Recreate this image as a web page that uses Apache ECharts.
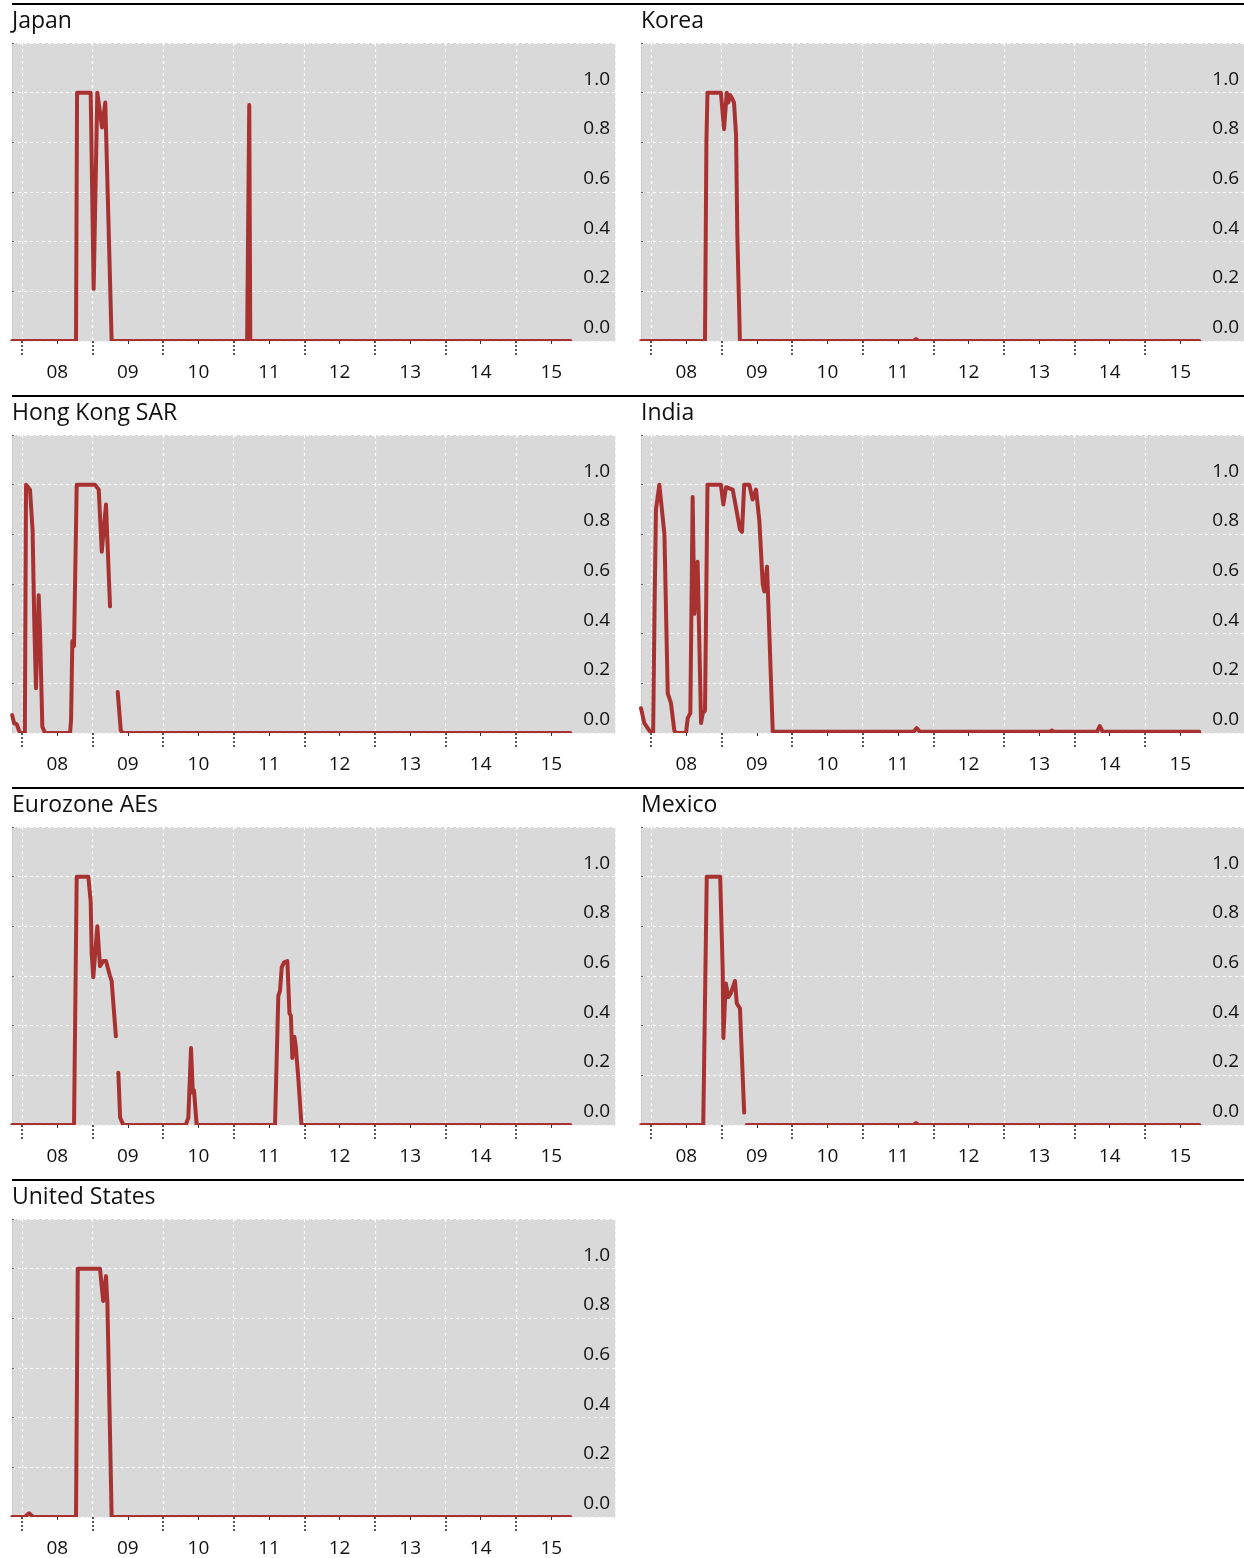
<!DOCTYPE html>
<html><head><meta charset="utf-8">
<script src="https://cdn.jsdelivr.net/npm/echarts@6/dist/echarts.min.js"></script>
<style>html,body{margin:0;padding:0;background:#fff}#c{width:1244px;height:1558px}</style>
</head><body><div id="c"></div>
<script>
// ---------- data ----------
const panelTitles = ['Japan', 'Korea', 'Hong Kong SAR', 'India', 'Eurozone AEs', 'Mexico', 'United States'];
const yearTicks = [2008, 2009, 2010, 2011, 2012, 2013, 2014, 2015];
const yearLabelPos = [2008.5, 2009.5, 2010.5, 2011.5, 2012.5, 2013.5, 2014.5, 2015.5];
const yearLabels = ['08', '09', '10', '11', '12', '13', '14', '15'];
const X_MIN = 2007.858, X_MAX = 2016.403;

const japan = [[2007.86,0],[2008.765,0],[2008.78,1.0],[2008.973,1.0],[2009.015,0.21],[2009.067,1.0],[2009.134,0.86],[2009.18,0.96],[2009.27,0],[2011.19,0],[2011.22,0.95],[2011.235,0],[2015.77,0]];
const korea = [[2007.86,0],[2008.765,0],[2008.785,0.8],[2008.80,1.0],[2008.99,1.0],[2009.035,0.853],[2009.073,1.0],[2009.095,0.96],[2009.12,0.99],[2009.143,0.98],[2009.176,0.96],[2009.205,0.83],[2009.223,0.43],[2009.26,0],[2011.72,0],[2011.755,0.008],[2011.79,0],[2015.77,0]];
const hongKong = [[2007.86,0.072],[2007.887,0.04],[2007.925,0.035],[2007.957,0.01],[2007.98,0],[2008.04,0],[2008.057,1.0],[2008.113,0.98],[2008.15,0.815],[2008.174,0.44],[2008.198,0.18],[2008.236,0.555],[2008.255,0.41],[2008.288,0.025],[2008.326,0],[2008.68,0],[2008.695,0.05],[2008.713,0.37],[2008.737,0.35],[2008.775,1.0],[2009.034,1.0],[2009.06,0.99],[2009.087,0.98],[2009.13,0.73],[2009.19,0.92],[2009.247,0.51],[2009.30,'-'],[2009.356,0.165],[2009.40,0.01],[2009.427,0],[2015.77,0]];
const india = [[2007.858,0.10],[2007.905,0.04],[2007.953,0.02],[2008.0,0],[2008.03,0],[2008.05,0.5],[2008.07,0.9],[2008.118,1.0],[2008.19,0.80],[2008.237,0.16],[2008.283,0.12],[2008.33,0.01],[2008.354,0],[2008.496,0],[2008.52,0.06],[2008.557,0.08],[2008.59,0.95],[2008.614,0.48],[2008.66,0.69],[2008.709,0.04],[2008.733,0.08],[2008.765,0.09],[2008.80,1.0],[2008.99,1.0],[2009.025,0.92],[2009.063,0.99],[2009.158,0.98],[2009.26,0.82],[2009.29,0.81],[2009.32,1.0],[2009.393,1.0],[2009.44,0.94],[2009.488,0.98],[2009.535,0.855],[2009.583,0.60],[2009.605,0.57],[2009.644,0.67],[2009.725,0.005],[2010.11,0.005],[2010.135,0.01],[2010.16,0.005],[2010.40,0.005],[2010.42,0.008],[2010.44,0.005],[2011.72,0.005],[2011.765,0.02],[2011.81,0.005],[2013.65,0.005],[2013.68,0.01],[2013.71,0.005],[2014.32,0.005],[2014.36,0.028],[2014.40,0.005],[2015.77,0.005]];
const eurozone = [[2007.86,0],[2008.737,0],[2008.775,1.0],[2008.94,1.0],[2008.973,0.90],[2008.987,0.69],[2009.01,0.595],[2009.067,0.80],[2009.105,0.64],[2009.15,0.66],[2009.19,0.66],[2009.247,0.60],[2009.27,0.58],[2009.33,0.357],[2009.35,'-'],[2009.365,0.21],[2009.39,0.03],[2009.435,0],[2010.32,0],[2010.357,0.03],[2010.395,0.31],[2010.42,0.13],[2010.437,0.14],[2010.475,0],[2011.585,0],[2011.632,0.52],[2011.656,0.54],[2011.68,0.635],[2011.713,0.655],[2011.76,0.66],[2011.79,0.45],[2011.81,0.44],[2011.83,0.27],[2011.86,0.355],[2011.88,0.315],[2011.915,0.19],[2011.96,0],[2015.77,0]];
const mexico = [[2007.86,0],[2008.74,0],[2008.79,1.0],[2008.98,1.0],[2009.016,0.62],[2009.025,0.35],[2009.06,0.57],[2009.095,0.515],[2009.13,0.53],[2009.19,0.58],[2009.215,0.49],[2009.26,0.47],[2009.32,0.05],[2009.34,'-'],[2009.355,0],[2011.72,0],[2011.755,0.008],[2011.79,0],[2015.77,0]];
const unitedStates = [[2007.86,0],[2008.04,0],[2008.10,0.015],[2008.16,0],[2008.765,0],[2008.79,1.0],[2009.105,1.0],[2009.15,0.87],[2009.19,0.97],[2009.21,0.86],[2009.27,0],[2015.77,0]];

const panelData = [japan, korea, hongKong, india, eurozone, mexico, unitedStates];

// ---------- chart ----------
const FONT = '"Open Sans", "Noto Sans", sans-serif';
const TEXT = '#111111';
const GRID_W = 603, GRID_H = 298;
const grids = [], xAxes = [], yAxes = [], series = [], graphics = [];

panelData.forEach((d, i) => {
  const col = i % 2, row = Math.floor(i / 2);
  const left = 12 + 629 * col, top = 43 + 392 * row;
  grids.push({left: left, top: top, width: GRID_W, height: GRID_H, show: true,
    backgroundColor: '#d9d9d9', borderWidth: 0});
  // data axis: vertical grid lines at year boundaries (drawn beneath the line)
  xAxes.push({
    type: 'value', gridIndex: i, min: X_MIN, max: X_MAX, position: 'bottom', z: 0,
    axisLine: {show: false, onZero: false},
    axisTick: {show: false, customValues: yearTicks},
    axisLabel: {show: false},
    splitLine: {show: true, lineStyle: {color: '#ffffff', type: [3, 3], width: 1.2}}
  });
  // year-boundary ticks (drawn above the mask)
  xAxes.push({
    type: 'value', gridIndex: i, min: X_MIN, max: X_MAX, position: 'bottom', z: 6,
    axisLine: {show: true, onZero: false, lineStyle: {color: '#f0f0f0', type: [3, 3], width: 1}},
    axisTick: {show: true, customValues: yearTicks, length: 14, lineStyle: {color: '#222', type: [2, 2], width: 1.5}},
    axisLabel: {show: false},
    splitLine: {show: false}
  });
  // mid-year minor ticks and year labels
  xAxes.push({
    type: 'value', gridIndex: i, min: X_MIN, max: X_MAX, position: 'bottom', z: 6,
    axisLine: {show: false, onZero: false},
    axisTick: {show: true, customValues: yearLabelPos, length: 3, lineStyle: {color: '#333', width: 1}},
    axisLabel: {show: true, customValues: yearLabelPos, margin: 22,
      formatter: v => yearLabels[yearLabelPos.indexOf(v)] ?? '',
      fontSize: 19, color: TEXT, fontFamily: FONT},
    splitLine: {show: false}
  });
  yAxes.push({
    type: 'value', gridIndex: i, min: 0, max: 1.2, interval: 0.2, position: 'right',
    axisLine: {show: true, onZero: false, lineStyle: {color: '#f0f0f0', type: [3, 3], width: 1}},
    axisTick: {show: false},
    axisLabel: {inside: true, margin: 5, fontSize: 19, color: TEXT, fontFamily: FONT,
      verticalAlign: 'bottom', lineHeight: 27,
      formatter: v => (v > 1.1 ? '' : v.toFixed(1))},
    splitLine: {show: true, lineStyle: {color: '#ffffff', type: [3, 3], width: 1.2}}
  });
  yAxes.push({
    type: 'value', gridIndex: i, min: 0, max: 1.2, interval: 0.2, position: 'left',
    axisLine: {show: true, onZero: false, lineStyle: {color: '#c4c4c4', type: [2, 2], width: 1}},
    axisTick: {show: true, inside: true, length: 2, lineStyle: {color: '#666'}},
    axisLabel: {show: false},
    splitLine: {show: false}
  });
  series.push({
    type: 'line', xAxisIndex: 3 * i, yAxisIndex: 2 * i, data: d, z: 2,
    symbol: 'none', showSymbol: false, clip: true, connectNulls: false,
    lineStyle: {color: '#a83232', width: 4, join: 'round', cap: 'round'},
    emphasis: {disabled: true}, animation: false
  });
  // mask the part of the line that falls outside the plot area (below its bottom edge)
  graphics.push({type: 'rect', z: 4, silent: true,
    shape: {x: left - 4, y: top + GRID_H, width: GRID_W + 8, height: 4},
    style: {fill: '#ffffff'}});
  graphics.push({type: 'text', left: left, top: 22 + 392 * row - 12, z: 4,
    style: {text: panelTitles[i], font: '23px ' + FONT, fill: TEXT}});
});
for (let r = 0; r < 4; r++) {
  graphics.push({type: 'line', z: 4, shape: {x1: 12, y1: 4 + 392 * r, x2: 1244, y2: 4 + 392 * r},
    style: {stroke: '#000', lineWidth: 2}});
}

const chart = echarts.init(document.getElementById('c'), null, {renderer: 'canvas'});
chart.setOption({
  animation: false,
  backgroundColor: '#ffffff',
  grid: grids, xAxis: xAxes, yAxis: yAxes, series: series, graphic: graphics,
  tooltip: {show: false}
});
</script>
</body></html>
